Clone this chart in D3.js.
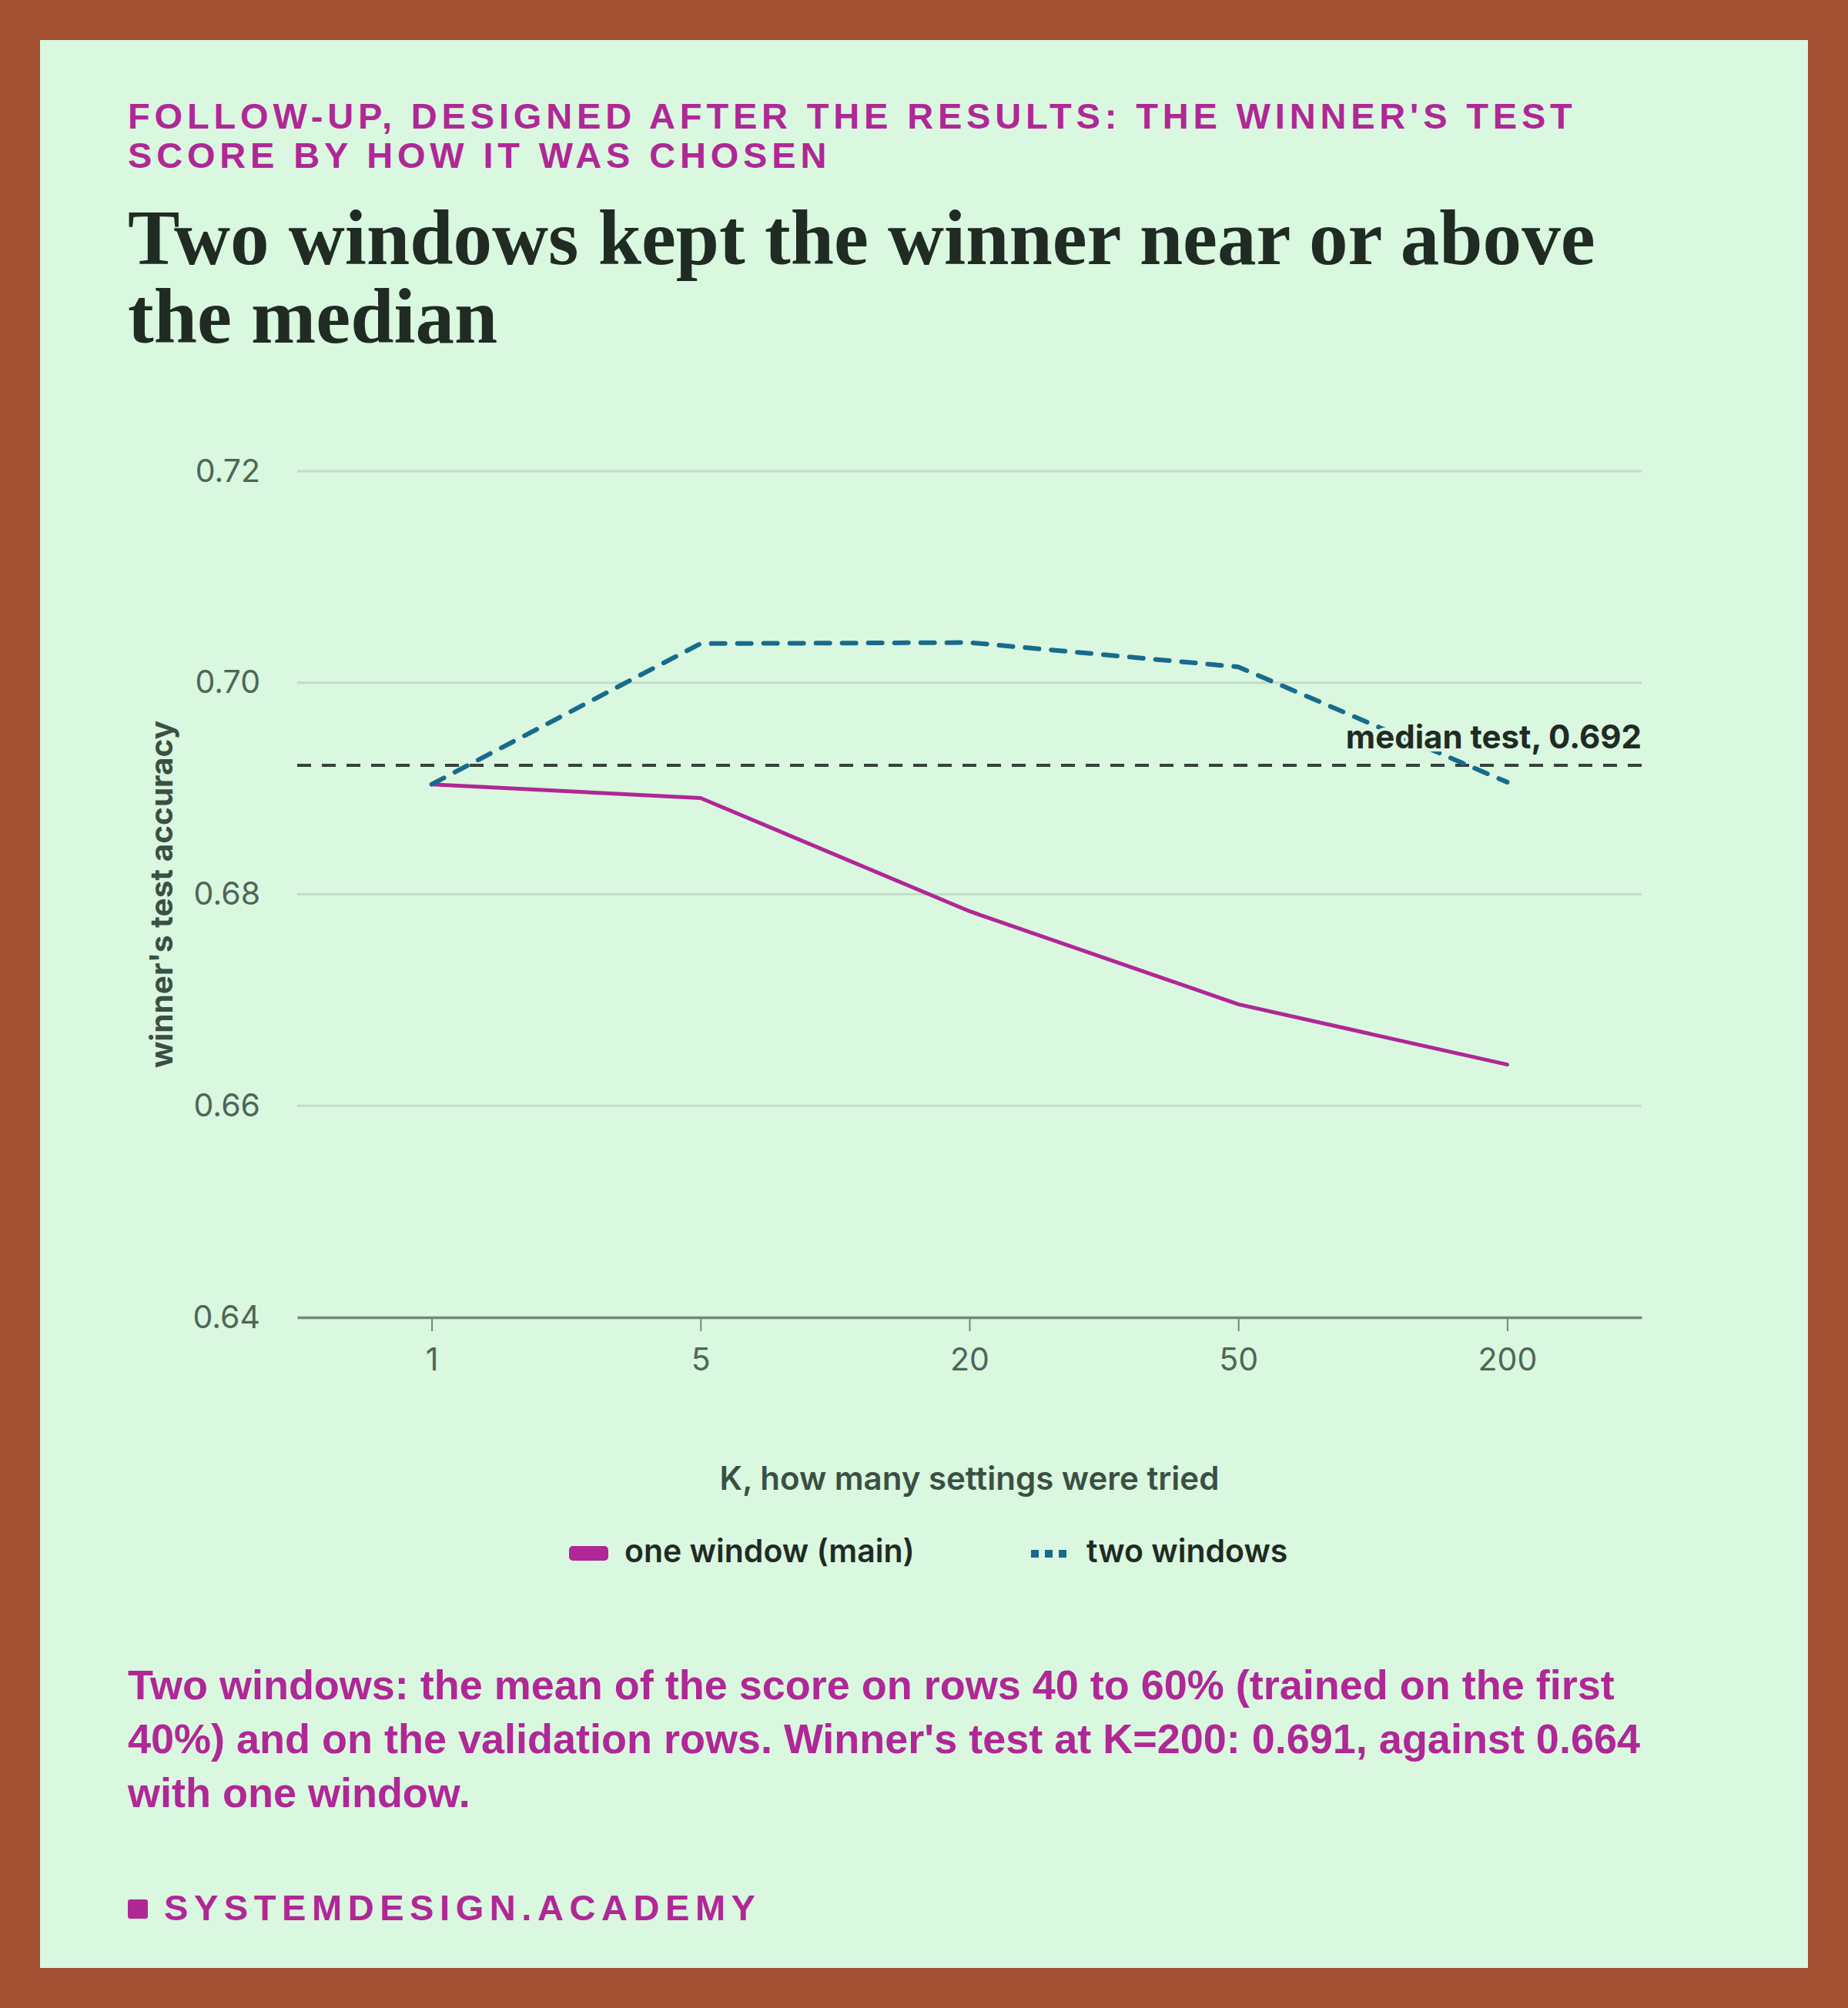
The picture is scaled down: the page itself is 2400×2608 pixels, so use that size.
<!DOCTYPE html>
<html>
<head>
<meta charset="utf-8">
<style>
  html, body { margin: 0; padding: 0; background: #a35033; overflow: hidden; }
  svg { display: block; width: 100vw; height: 100vh; }
</style>
</head>
<body>
<script src="https://d3js.org/d3.v7.min.js"></script>
<svg id="chart" viewBox="0 0 2400 2608" preserveAspectRatio="xMidYMid meet"></svg>
<script>
  // data
  const kValues = ['1', '5', '20', '50', '200'];
  const oneWindow = [0.6904, 0.6891, 0.6784, 0.6696, 0.6639];
  const twoWindows = [0.6904, 0.7037, 0.7038, 0.7015, 0.6906];
  const medianTest = 0.6922;
  const yTicks = [0.64, 0.66, 0.68, 0.70, 0.72];
  const seriesNames = ['one window (main)', 'two windows'];

  const eyebrow = ["FOLLOW-UP, DESIGNED AFTER THE RESULTS: THE WINNER'S TEST", 'SCORE BY HOW IT WAS CHOSEN'];
  const title = ['Two windows kept the winner near or above', 'the median'];
  const note = [
    'Two windows: the mean of the score on rows 40 to 60% (trained on the first',
    "40%) and on the validation rows. Winner's test at K=200: 0.691, against 0.664",
    'with one window.'
  ];

  const colors = {
    frame: '#a35033', bg: '#daf7e0', pink: '#b02796', blue: '#176b8c',
    ink: '#1f2b23', grid: '#c2dec8', axis: '#708a79', tick: '#4f6657', label: '#3a5043'
  };

  // drawing is done in a 2400 x 2608 coordinate space
  const W = 2400;
  const H = 2608;
  const svg = d3.select('#chart');

  svg.append('rect').attr('width', W).attr('height', H).attr('fill', colors.frame);
  svg.append('rect').attr('x', 52).attr('y', 52).attr('width', W - 104).attr('height', H - 104)
     .attr('fill', colors.bg);

  // helpers to fit text into the measured widths
  function fitSize(sel, target) {
    const w = sel.node().getComputedTextLength();
    const fs = parseFloat(sel.attr('font-size'));
    sel.attr('font-size', (fs * target / w).toFixed(2));
  }
  function fitSpacing(sel, target) {
    const w = sel.node().getComputedTextLength();
    const n = sel.text().length;
    return ((target - w) / (n - 1)).toFixed(2);
  }

  // eyebrow
  const eb = svg.append('g').attr('font-family', '"Liberation Sans", Arial, sans-serif')
                .attr('font-weight', 700).attr('fill', colors.pink);
  const eb1 = eb.append('text').attr('x', 166).attr('y', 167).attr('font-size', 47).text(eyebrow[0]);
  const ls = fitSpacing(eb1, 1876);
  eb1.attr('letter-spacing', ls);
  eb.append('text').attr('x', 166).attr('y', 218).attr('font-size', 47)
    .attr('letter-spacing', ls).text(eyebrow[1]);

  // title
  const tg = svg.append('g').attr('font-family', '"Liberation Serif", "Times New Roman", serif')
                .attr('font-weight', 700).attr('fill', colors.ink);
  const t1 = tg.append('text').attr('x', 166).attr('y', 343).attr('font-size', 93).text(title[0]);
  fitSize(t1, 1906);
  tg.append('text').attr('x', 166).attr('y', 445).attr('font-size', t1.attr('font-size')).text(title[1]);

  // plot
  const margin = {top: 612, right: 268, bottom: 897, left: 386};
  const innerWidth = W - margin.left - margin.right;
  const innerHeight = H - margin.top - margin.bottom;
  const g = svg.append('g').attr('transform', `translate(${margin.left}, ${margin.top})`)
               .attr('font-family', 'Inter, "Noto Sans", sans-serif');

  const xScale = d3.scalePoint().domain(kValues).range([0, innerWidth]).padding(0.5);
  const yScale = d3.scaleLinear().domain([0.64, 0.72]).range([innerHeight, 0]);

  // gridlines
  g.append('g').selectAll('line').data(yTicks.filter(d => d > 0.64)).enter().append('line')
   .attr('x1', 0).attr('x2', innerWidth)
   .attr('y1', d => yScale(d)).attr('y2', d => yScale(d))
   .attr('stroke', colors.grid).attr('stroke-width', 3);

  // y axis labels
  const yAxis = d3.axisLeft(yScale).tickValues(yTicks).tickFormat(d3.format('.2f'))
                  .tickSize(0).tickPadding(48);
  const yg = g.append('g').call(yAxis);
  yg.select('.domain').remove();
  yg.selectAll('text').attr('font-size', 41).attr('fill', colors.tick)
    .attr('font-family', 'Inter, sans-serif');

  // x axis
  const xAxis = d3.axisBottom(xScale).tickSize(18).tickPadding(22).tickSizeOuter(0);
  const xg = g.append('g').attr('transform', `translate(0, ${innerHeight})`).call(xAxis);
  xg.select('.domain').attr('stroke', colors.axis).attr('stroke-width', 3.5);
  xg.selectAll('.tick line').attr('stroke', colors.axis).attr('stroke-width', 2);
  xg.selectAll('text').attr('font-size', 41).attr('fill', colors.tick)
    .attr('font-family', 'Inter, sans-serif');

  // median reference
  g.append('line')
   .attr('x1', 0).attr('x2', innerWidth)
   .attr('y1', yScale(medianTest)).attr('y2', yScale(medianTest))
   .attr('stroke', '#36423a').attr('stroke-width', 4).attr('stroke-dasharray', '18 14');

  const line = d3.line().x(d => xScale(d.k)).y(d => yScale(d.v));
  const toPts = arr => arr.map((v, i) => ({k: kValues[i], v: v}));

  g.append('path').datum(toPts(oneWindow)).attr('d', line)
   .attr('fill', 'none').attr('stroke', colors.pink).attr('stroke-width', 5)
   .attr('stroke-linejoin', 'round').attr('stroke-linecap', 'round');

  g.append('path').datum(toPts(twoWindows)).attr('d', line)
   .attr('fill', 'none').attr('stroke', colors.blue).attr('stroke-width', 6)
   .attr('stroke-dasharray', '18 16').attr('stroke-linecap', 'round').attr('stroke-linejoin', 'round');

  // median label
  g.append('text')
   .attr('x', innerWidth).attr('y', yScale(medianTest) - 22)
   .attr('text-anchor', 'end').attr('font-size', 42).attr('font-weight', 700)
   .attr('fill', colors.ink)
   .attr('stroke', colors.bg).attr('stroke-width', 8).attr('paint-order', 'stroke')
   .text('median test, ' + d3.format('.3f')(medianTest));

  // axis titles
  g.append('text')
   .attr('transform', `translate(${224 - margin.left}, ${innerHeight / 2}) rotate(-90)`)
   .attr('text-anchor', 'middle').attr('font-size', 40.5).attr('font-weight', 700)
   .attr('fill', colors.label).text("winner's test accuracy");

  g.append('text')
   .attr('x', innerWidth / 2).attr('y', innerHeight + 224)
   .attr('text-anchor', 'middle').attr('font-size', 42).attr('font-weight', 600)
   .attr('fill', colors.label).text('K, how many settings were tried');

  // legend
  const legend = svg.append('g').attr('font-family', 'Inter, sans-serif');
  const lx = [739, 1339];
  legend.append('rect').attr('x', lx[0]).attr('y', 2008).attr('width', 51).attr('height', 19)
        .attr('rx', 5).attr('fill', colors.pink);
  legend.append('line').attr('x1', lx[1]).attr('x2', lx[1] + 52).attr('y1', 2018).attr('y2', 2018)
        .attr('stroke', colors.blue).attr('stroke-width', 10).attr('stroke-dasharray', '10 8');
  legend.selectAll('text.item').data(seriesNames).enter().append('text')
        .attr('class', 'item')
        .attr('x', (d, i) => lx[i] + 72).attr('y', 2029)
        .attr('font-size', 41).attr('font-weight', 600).attr('fill', colors.ink)
        .text(d => d);

  // note
  const ng = svg.append('g').attr('font-family', '"Liberation Sans", Arial, sans-serif')
                .attr('font-weight', 700).attr('fill', colors.pink);
  const n1 = ng.append('text').attr('x', 166).attr('y', 2207).attr('font-size', 53).text(note[0]);
  fitSize(n1, 1931);
  note.slice(1).forEach((t, i) => {
    ng.append('text').attr('x', 166).attr('y', 2277 + i * 70)
      .attr('font-size', n1.attr('font-size')).text(t);
  });

  // footer
  svg.append('rect').attr('x', 166).attr('y', 2467).attr('width', 26).attr('height', 25)
     .attr('rx', 3).attr('fill', colors.pink);
  const ft = svg.append('text').attr('x', 213).attr('y', 2494)
     .attr('font-family', '"Liberation Sans", Arial, sans-serif').attr('font-weight', 700)
     .attr('font-size', 47).attr('fill', colors.pink).text('SYSTEMDESIGN.ACADEMY');
  ft.attr('letter-spacing', fitSpacing(ft, 768));
</script>
</body>
</html>
